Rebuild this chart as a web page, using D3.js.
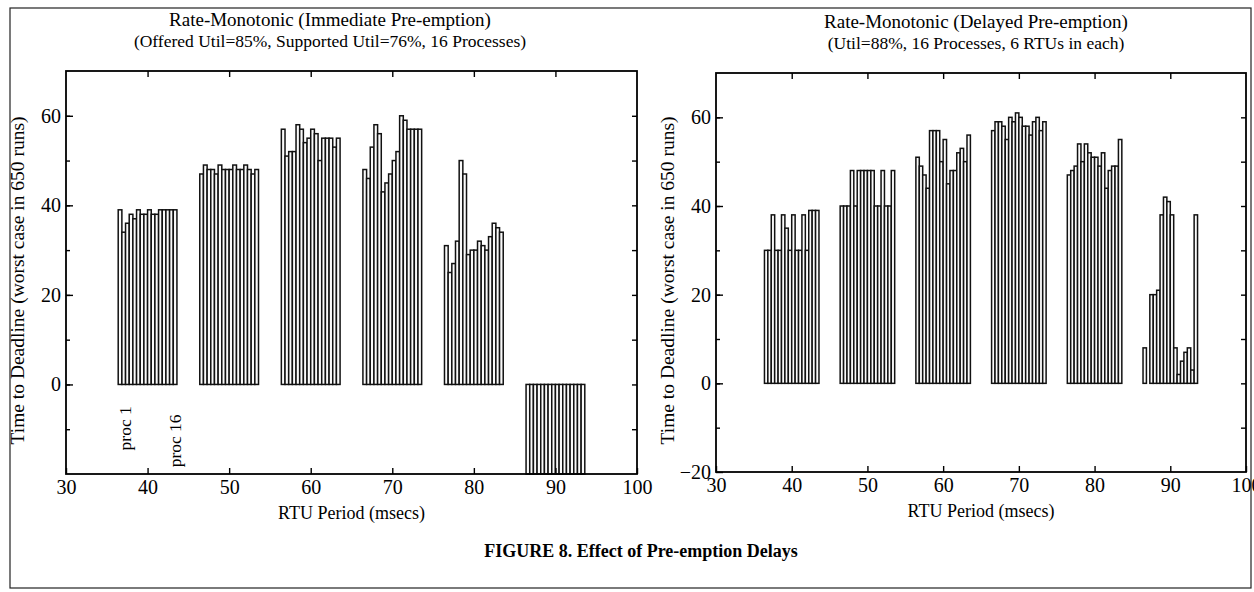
<!DOCTYPE html>
<html lang="en">
<head>
  <meta charset="UTF-8" />
  <title>Effect of Pre-emption Delays</title>
  <script src="https://cdn.jsdelivr.net/npm/d3@7"></script>
  <style>
    html, body { margin: 0; background: #fff; }
    svg text { font-family: "Liberation Serif", "Times New Roman", serif; fill: #000; }
    .axis .domain { display: none; }
    .axis line { stroke: #000; stroke-width: 1.4; }
    .axis text { font-size: 20px; }
    .bar { fill: #fafafa; stroke: #111; stroke-width: 1.5; }
  </style>
</head>
<body>
  <svg id="fig" width="1254" height="592"></svg>
  <script>
    // RTU periods (msecs), one group of 16 processes each
    const periods = [40, 50, 60, 70, 80, 90];

    // Time to deadline, worst case in 650 runs, proc 1..16 per period
    const immediateValues = [
      [39, 34, 36, 38, 37, 39, 38, 38, 39, 38, 38, 39, 39, 39, 39, 39],
      [47, 49, 48, 48, 47, 49, 48, 48, 48, 49, 48, 48, 49, 48, 47, 48],
      [57, 51, 52, 52, 58, 57, 54, 55, 57, 56, 50, 55, 55, 55, 53, 55],
      [48, 46, 53, 58, 56, 43, 45, 47, 50, 52, 60, 59, 57, 57, 57, 57],
      [31, 25, 27, 32, 50, 47, 29, 30, 30, 32, 31, 30, 33, 36, 35, 34],
      [-20, -20, -20, -20, -20, -20, -20, -20, -20, -20, -20, -20, -20, -20, -20, -20]
    ];
    const delayedValues = [
      [30, 30, 38, 30, 30, 38, 35, 30, 38, 30, 30, 38, 30, 39, 39, 39],
      [40, 40, 40, 48, 40, 48, 48, 48, 48, 48, 40, 40, 48, 40, 40, 48],
      [51, 49, 47, 44, 57, 57, 57, 50, 55, 45, 48, 48, 52, 53, 50, 56],
      [57, 59, 59, 58, 55, 60, 59, 61, 60, 58, 58, 56, 59, 60, 57, 59],
      [47, 48, 49, 54, 50, 54, 52, 51, 51, 49, 52, 44, 48, 49, 49, 55],
      [8, 0, 20, 20, 21, 38, 42, 41, 38, 8, 2, 5, 7, 8, 3, 38]
    ];

    const xTicks = [30, 40, 50, 60, 70, 80, 90, 100];
    const yMinor = [-10, 0, 10, 20, 30, 40, 50, 60];
    const leftYLabels = [0, 20, 40, 60];
    const rightYLabels = [-20, 0, 20, 40, 60];

    const svg = d3.select("#fig");

    // outer frame of the figure
    svg.append("rect")
      .attr("x", 10).attr("y", 8)
      .attr("width", 1241).attr("height", 580)
      .attr("fill", "none").attr("stroke", "#222").attr("stroke-width", 1.2);

    function drawPanel(cfg) {
      const x = d3.scaleLinear().domain([30, 100]).range([cfg.left, cfg.right]);
      const y = d3.scaleLinear().domain([-20, 70]).range([cfg.bottom, cfg.top]);
      const g = svg.append("g");

      // titles
      const cx = cfg.titleX;
      g.append("text").attr("x", cx).attr("y", cfg.top - 45)
        .attr("text-anchor", "middle").style("font-size", "19px").text(cfg.title1);
      g.append("text").attr("x", cx).attr("y", cfg.top - 24)
        .attr("text-anchor", "middle").style("font-size", "17.5px").text(cfg.title2);

      // bars: 16 processes spread around each period
      const slot = 0.45;
      const bars = [];
      cfg.values.forEach((row, gi) => {
        row.forEach((v, i) => bars.push({ p: periods[gi], i, v }));
      });
      g.selectAll("rect.bar")
        .data(bars)
        .enter().append("rect")
          .attr("class", "bar")
          .attr("x", d => x(d.p - 8 * slot + d.i * slot))
          .attr("width", x(30 + slot) - x(30))
          .attr("y", d => Math.min(y(d.v), y(0)))
          .attr("height", d => Math.abs(y(d.v) - y(0)));

      // plot box
      g.append("rect")
        .attr("x", cfg.left).attr("y", cfg.top)
        .attr("width", cfg.right - cfg.left).attr("height", cfg.bottom - cfg.top)
        .attr("fill", "none").attr("stroke", "#000").attr("stroke-width", 1.8);

      // axes with inward ticks
      g.append("g").attr("class", "axis")
        .attr("transform", `translate(0,${cfg.bottom})`)
        .call(d3.axisBottom(x).tickValues(xTicks).tickSizeInner(-6).tickSizeOuter(0).tickPadding(6));
      g.append("g").attr("class", "axis")
        .attr("transform", `translate(0,${cfg.top})`)
        .call(d3.axisTop(x).tickValues(xTicks.slice(1, -1)).tickSizeInner(-6).tickSizeOuter(0).tickFormat(""));
      g.append("g").attr("class", "axis")
        .attr("transform", `translate(${cfg.left},0)`)
        .call(d3.axisLeft(y).tickValues(cfg.yLabels).tickSizeInner(-7).tickSizeOuter(0).tickPadding(5));
      g.append("g").attr("class", "axis")
        .attr("transform", `translate(${cfg.left},0)`)
        .call(d3.axisLeft(y).tickValues(yMinor).tickSizeInner(-4).tickSizeOuter(0).tickFormat(""));
      g.append("g").attr("class", "axis")
        .attr("transform", `translate(${cfg.right},0)`)
        .call(d3.axisRight(y).tickValues(yMinor).tickSizeInner(-5).tickSizeOuter(0).tickFormat(""));

      // axis titles
      g.append("text")
        .attr("transform", `translate(${cfg.left - 42},${(cfg.top + cfg.bottom) / 2 + 8}) rotate(-90)`)
        .attr("text-anchor", "middle").style("font-size", "19.5px")
        .text("Time to Deadline (worst case in 650 runs)");
      g.append("text")
        .attr("x", (cfg.left + cfg.right) / 2).attr("y", cfg.bottom + 45)
        .attr("text-anchor", "middle").style("font-size", "18px")
        .text("RTU Period (msecs)");

      if (cfg.procLabels) {
        g.append("text")
          .attr("transform", `translate(${x(37.2)},${y(-9.8)}) rotate(-90)`)
          .attr("text-anchor", "middle").attr("dy", "0.35em").style("font-size", "17.5px")
          .text("proc 1");
        g.append("text")
          .attr("transform", `translate(${x(43.4)},${y(-12.6)}) rotate(-90)`)
          .attr("text-anchor", "middle").attr("dy", "0.35em").style("font-size", "17.5px")
          .text("proc 16");
      }
    }

    drawPanel({
      left: 66, right: 637, top: 71, bottom: 474, titleX: 330,
      title1: "Rate-Monotonic (Immediate Pre-emption)",
      title2: "(Offered Util=85%, Supported Util=76%, 16 Processes)",
      values: immediateValues, yLabels: leftYLabels, procLabels: true
    });

    drawPanel({
      left: 716, right: 1246, top: 73, bottom: 472, titleX: 976,
      title1: "Rate-Monotonic (Delayed Pre-emption)",
      title2: "(Util=88%, 16 Processes, 6 RTUs in each)",
      values: delayedValues, yLabels: rightYLabels, procLabels: false
    });

    svg.append("text")
      .attr("x", 641).attr("y", 557)
      .attr("text-anchor", "middle")
      .style("font-size", "18px").style("font-weight", "bold")
      .text("FIGURE 8. Effect of Pre-emption Delays");
  </script>
</body>
</html>
